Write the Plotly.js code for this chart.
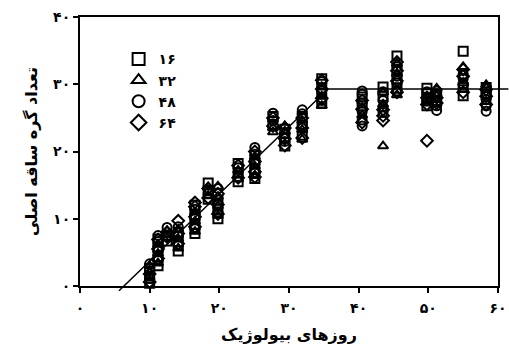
<!DOCTYPE html>
<html><head><meta charset="utf-8">
<script src="https://cdn.plot.ly/plotly-3.0.1.min.js"></script>
<style>html,body{margin:0;padding:0;background:#fff}#c{width:509px;height:356px}</style>
</head><body><div id="c"></div>
<script>
// Biological days (cluster positions)
const days = [10, 11.2, 12.5, 14.1, 16.5, 18.4, 19.8, 22.7, 25.1, 27.7, 29.4, 31.9, 34.7, 40.5, 43.5, 45.5, 49.8, 51.2, 55, 58.3];
// Main-stem node counts per day, one list per density
const y16 = [[0.4,1.5,2.6],[3.0,4.4,5.8,7.0],[6.7,7.6],[5.2,6.6,8.0],[7.8,9.2,10.6,12.0],[12.9,14.2,15.3],[10.0,11.4,12.8],[15.5,16.8,18.2],[16.0,17.4,18.8],[24.0,25.2],[20.8,22.0,23.3],[22.4,23.8,25.2],[27.2,28.6,30.0,30.8],[26.8,28.1],[29.6,28.2],[34.2,29.4,30.8,32.2],[29.4,26.8,27.8,28.6],[27.6,28.6],[34.9,28.3,29.5],[28.5,29.5]];
const y32 = [[0.8,2.0,3.0],[3.4,4.8,6.2],[7.1,8.2],[5.6,7.0,8.4],[8.1,9.6,11.0],[13.4,14.7],[10.5,11.9,13.3,14.8],[15.9,17.2],[16.4,17.8,19.2],[22.9,23.5],[23.0,23.8],[21.8,23.2,24.6],[26.8,28.2,29.6],[25.4],[20.8,27.0,28.8],[28.4,31.6,33.1],[27.2,28.2],[29.4],[32.6,30.2],[29.9,27.4]];
const y48 = [[1.1,2.3,3.3],[3.8,5.2,6.6,7.5],[8.7],[6.0,7.4,8.8],[8.5,10.0,11.4],[13.8],[11.0,12.3,14.5],[16.3,17.6],[16.8,18.2,19.6,20.6],[24.6,25.7],[21.5,22.6],[24.0,25.6,26.2],[27.6,29.0,30.4],[23.8,24.7,25.9,27.2,28.5,29.0],[25.8,26.6,27.6,28.9],[29.0,30.2,31.2,32.6],[27.5,28.9],[26.1,26.8,27.5,28.3,29.0],[30.0,30.8,31.5],[26.0,26.8,27.7,28.6]];
const y64 = [[0.6,1.8],[4.1,5.5,6.9],[7.3,8.0],[6.3,7.8,9.7],[8.8,10.3,11.8,12.4],[13.1,14.5],[10.7,12.1,13.7],[16.1,17.9],[16.2,17.0,18.5,20.0],[23.8,25.0],[20.9,21.9,23.5],[22.0,23.5,25.0],[27.9,29.3,30.6],[24.3,26.3,27.6],[24.6,25.3,26.2],[28.8,30.5,32.0,33.3],[21.6,27.0,28.0],[27.2,28.0],[28.8,31.2,32.2],[27.0,28.2,29.2]];
const seriesNames = ['۱۶','۳۲','۴۸','۶۴'];
const symbols = ['square-open','triangle-up-open','circle-open','diamond-open'];
// Fitted segmented line
const fitX = [5.6, 35.6, 61.5];
const fitY = [-0.7, 29.3, 29.3];
const xTicks = [0,10,20,30,40,50,60];
const xTickText = ['۰','۱۰','۲۰','۳۰','۴۰','۵۰','۶۰'];
const yTicks = [0,10,20,30,40];
const yTickText = ['۰','۱۰','۲۰','۳۰','۴۰'];

function flat(vals){const xs=[],ys=[];vals.forEach((arr,i)=>arr.forEach(v=>{xs.push(days[i]);ys.push(v);}));return {xs,ys};}
const traces = [];
[y16,y32,y48,y64].forEach((s,k)=>{
  const f = flat(s);
  traces.push({type:'scatter',mode:'markers',x:f.xs,y:f.ys,name:seriesNames[k],
    marker:{symbol:symbols[k],size:9,color:'#000',line:{width:2,color:'#000'}},cliponaxis:false});
});
traces.push({type:'scatter',mode:'lines',x:fitX,y:fitY,xaxis:'x2',yaxis:'y2',showlegend:false,
  line:{color:'#000',width:1.5}});

// geometry: plot area from x=80 to 509, y=17 to 294
const W = 429, H = 277;
const xDomEnd = 418/W;          // main axes end at x=498
const yDomStart = 8/H;          // main axes bottom at y=286
const pxPerX = 418/60, pxPerY = 269/40;
const font = 'DejaVu Sans';
const layout = {
  width:509,height:356,
  margin:{l:80,r:0,t:17,b:62},
  paper_bgcolor:'#fff',plot_bgcolor:'rgba(0,0,0,0)',
  font:{family:font,color:'#000'},
  showlegend:true,
  legend:{x:0.09,y:0.905,xanchor:'left',yanchor:'top',bgcolor:'rgba(0,0,0,0)',
    font:{family:font,size:14,color:'#000',weight:'bold'},itemsizing:'constant',tracegroupgap:0,itemwidth:30},
  xaxis:{domain:[0,xDomEnd],range:[0,60],tickvals:xTicks,ticktext:xTickText,
    showline:true,linewidth:2,linecolor:'#000',mirror:true,ticks:'outside',ticklen:5,tickwidth:2,tickcolor:'#000',
    showgrid:false,zeroline:false,tickfont:{size:14,family:font,weight:'bold'},ticklabelstandoff:3,
    title:{text:'روزهای بیولوژیک',font:{size:16,family:font,weight:'bold'},standoff:14},anchor:'y'},
  yaxis:{domain:[yDomStart,1],range:[0,40],tickvals:yTicks,ticktext:yTickText,
    showline:true,linewidth:2,linecolor:'#000',mirror:true,ticks:'outside',ticklen:5,tickwidth:2,tickcolor:'#000',
    showgrid:false,zeroline:false,tickfont:{size:14,family:font,weight:'bold'},
    title:{text:'تعداد گره ساقه اصلی',font:{size:16,family:font,weight:'bold'},standoff:12},anchor:'x'},
  xaxis2:{domain:[0,1],range:[0,W/pxPerX],visible:false,anchor:'y2'},
  yaxis2:{domain:[0,1],range:[-8/pxPerY,40],visible:false,anchor:'x2'}
};
Plotly.newPlot('c',traces,layout,{staticPlot:true});
</script></body></html>
